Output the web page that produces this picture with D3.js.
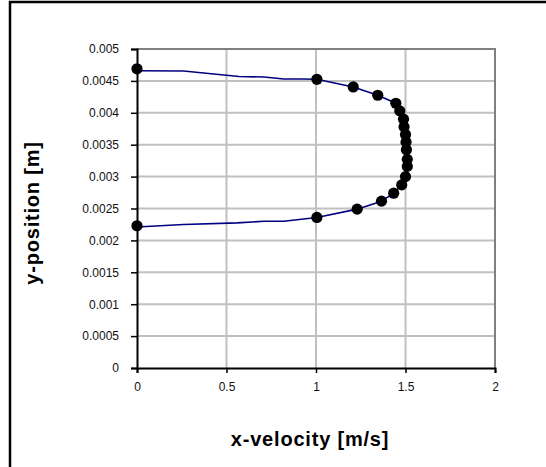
<!DOCTYPE html>
<html>
<head>
    <meta charset="utf-8">
    <style>
        html, body {
            margin: 0;
            padding: 0;
            background: #fff;
        }

        svg {
            display: block;
            font-family: "Liberation Sans", Arial, sans-serif;
        }

        .tick text {
            font-size: 12px;
            fill: #111;
        }
    </style>
</head>
<body>
<div id="chart"></div>

<script src="https://cdn.jsdelivr.net/npm/d3@7"></script>
<script>
    "use strict";

    const WIDTH = 546;
    const HEIGHT = 467;

    // measured points (markers)
    const pointX = [0, 1.005, 1.208, 1.345, 1.446, 1.468, 1.489, 1.492, 1.5, 1.503,
        1.505, 1.51, 1.51, 1.5, 1.479, 1.434, 1.366, 1.23, 1.005, 0];
    const pointY = [0.00469, 0.004525, 0.004405, 0.004275, 0.00415, 0.00403, 0.0039, 0.00378, 0.00366, 0.00354,
        0.00342, 0.00327, 0.00316, 0.003, 0.00287, 0.00274, 0.002615, 0.00249, 0.00236, 0.00223];

    // profile line
    const lineX = [0, 0.26, 0.57, 0.71, 0.82, 0.92, 1.005, 1.208, 1.345, 1.446, 1.468, 1.489, 1.492, 1.5, 1.503,
        1.505, 1.51, 1.51, 1.5, 1.479, 1.434, 1.366, 1.23, 1.005, 0.82, 0.71, 0.56, 0.26, 0];
    const lineY = [0.00466, 0.004655, 0.00457, 0.00456, 0.00453, 0.00453, 0.004525, 0.004405, 0.004275, 0.00415,
        0.00403, 0.0039, 0.00378, 0.00366, 0.00354, 0.00342, 0.00327, 0.00316, 0.003, 0.00287, 0.00274,
        0.002615, 0.00249, 0.00236, 0.0023, 0.0023, 0.002275, 0.00225, 0.00221];

    const xTicks = [0, 0.5, 1, 1.5, 2];
    const yTicks = [0, 0.0005, 0.001, 0.0015, 0.002, 0.0025, 0.003, 0.0035, 0.004, 0.0045, 0.005];

    const plot = {left: 137, right: 495, top: 49, bottom: 368};

    const svg = d3.select("#chart").append("svg")
        .attr("width", WIDTH)
        .attr("height", HEIGHT);

    // outer frame (right and bottom edges fall outside the picture)
    svg.append("rect")
        .attr("x", 10)
        .attr("y", 2)
        .attr("width", 700)
        .attr("height", 700)
        .attr("fill", "#fff")
        .attr("stroke", "#000")
        .attr("stroke-width", 2.5);

    const x = d3.scaleLinear().domain([0, 2]).range([plot.left, plot.right]);
    const y = d3.scaleLinear().domain([0, 0.005]).range([plot.bottom, plot.top]);

    // grid
    svg.append("g")
        .selectAll("line")
        .data(xTicks.slice(1, -1))
        .enter()
        .append("line")
        .attr("x1", d => x(d))
        .attr("x2", d => x(d))
        .attr("y1", plot.top)
        .attr("y2", plot.bottom)
        .attr("stroke", "#c0c0c0")
        .attr("stroke-width", 2);

    svg.append("g")
        .selectAll("line")
        .data(yTicks.slice(1, -1))
        .enter()
        .append("line")
        .attr("x1", plot.left)
        .attr("x2", plot.right)
        .attr("y1", d => y(d))
        .attr("y2", d => y(d))
        .attr("stroke", "#c0c0c0")
        .attr("stroke-width", 2);

    // top and right border of the plot area
    svg.append("path")
        .attr("d", "M" + x(0) + "," + y(0.005) + "H" + x(2) + "V" + y(0))
        .attr("fill", "none")
        .attr("stroke", "#808080")
        .attr("stroke-width", 2);

    // axes
    const xAxis = d3.axisBottom(x)
        .tickValues(xTicks)
        .tickFormat(d3.format("~g"))
        .tickSize(5)
        .tickPadding(9);

    const yAxis = d3.axisLeft(y)
        .tickValues(yTicks)
        .tickFormat(d => d === 0 ? "0" : String(+d.toFixed(4)))
        .tickSize(6)
        .tickPadding(12);

    const gx = svg.append("g")
        .attr("transform", "translate(0," + plot.bottom + ")")
        .call(xAxis);

    const gy = svg.append("g")
        .attr("transform", "translate(" + plot.left + ",0)")
        .call(yAxis);

    [gx, gy].forEach(function (g) {
        g.select(".domain").attr("stroke", "#000").attr("stroke-width", 2);
        g.selectAll(".tick line").attr("stroke", "#000").attr("stroke-width", 1.5);
        g.attr("font-family", null).attr("font-size", null);
    });

    // line and markers
    const lineData = lineX.map((v, i) => [v, lineY[i]]);
    const pointData = pointX.map((v, i) => [v, pointY[i]]);

    svg.append("path")
        .datum(lineData)
        .attr("fill", "none")
        .attr("stroke", "#000080")
        .attr("stroke-width", 1.6)
        .attr("d", d3.line()
            .x(d => x(d[0]))
            .y(d => y(d[1])));

    svg.append("g")
        .selectAll("circle")
        .data(pointData)
        .enter()
        .append("circle")
        .attr("cx", d => x(d[0]))
        .attr("cy", d => y(d[1]))
        .attr("r", 5.6)
        .attr("fill", "#000");

    // axis titles
    svg.append("text")
        .attr("x", 310)
        .attr("y", 446)
        .attr("text-anchor", "middle")
        .style("font-size", "20px")
        .style("font-weight", "bold")
        .style("letter-spacing", "0.8px")
        .text("x-velocity [m/s]");

    svg.append("text")
        .attr("transform", "translate(39,213) rotate(-90)")
        .attr("text-anchor", "middle")
        .style("font-size", "20px")
        .style("font-weight", "bold")
        .style("letter-spacing", "0.8px")
        .text("y-position [m]");
</script>
</body>
</html>
